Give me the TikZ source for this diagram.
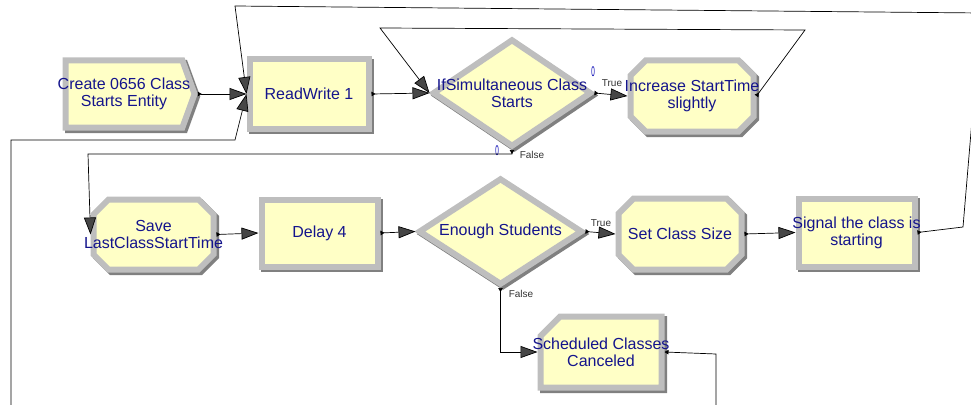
\documentclass[tikz,border=0pt]{standalone}
\usepackage{fontspec}
\setmainfont{Liberation Sans}
\usetikzlibrary{arrows.meta, shapes.geometric, shapes.symbols}

\definecolor{modfill}{RGB}{255,255,198}
\definecolor{bevlight}{RGB}{190,190,190}
\definecolor{bevdark}{RGB}{128,128,128}
\definecolor{modtext}{RGB}{20,20,140}
\definecolor{tipgray}{RGB}{70,70,70}

\tikzset{
  smalltip/.tip={Triangle[reversed, length=4pt, width=4.5pt]},
  bigtip/.tip={Triangle[length=17pt, width=12pt, fill=tipgray]},
  module/.style={fill=modfill, draw=bevlight, line width=6pt, inner sep=0pt,
    preaction={draw=bevdark, line width=6pt,
      transform canvas={shift={(2.5pt,-2.5pt)}}}},
  modbox/.style={module, rectangle},
  moddecide/.style={module, diamond},
  modframe/.style={rectangle, inner sep=0pt, outer sep=3pt},
  txt/.style={font=\fontsize{16}{17}\selectfont, text=modtext, align=center, inner sep=0pt},
  branch/.style={font=\fontsize{10}{12}\selectfont, text=black!80, inner sep=0pt},
  counter/.style={font=\fontsize{14}{14}\selectfont, text=blue!70!black, inner sep=0pt},
  conn/.style={line width=0.7pt, smalltip-bigtip},
}

% bevelled octagon: centre x, centre y, width, height, chamfer
\newcommand{\octabox}[5]{%
  \path[module] ({#1-#3/2+#5},{#2-#4/2}) -- ({#1+#3/2-#5},{#2-#4/2})
    -- ({#1+#3/2},{#2-#4/2+#5}) -- ({#1+#3/2},{#2+#4/2-#5})
    -- ({#1+#3/2-#5},{#2+#4/2}) -- ({#1-#3/2+#5},{#2+#4/2})
    -- ({#1-#3/2},{#2+#4/2-#5}) -- ({#1-#3/2},{#2-#4/2+#5}) -- cycle;}

\begin{document}
\begin{tikzpicture}[x=1pt, y=-1pt]
  \useasboundingbox (0,0) rectangle (971,404);
  \clip (0,0) rectangle (971,404);

  % upper row
  \node[module, signal, signal pointer angle=140, minimum width=129pt, minimum height=67pt,
    label={[txt]center:Create 0656 Class\\Starts Entity}] (create) at (124,94) {};
  \node[modbox, minimum width=119pt, minimum height=69pt,
    label={[txt]center:ReadWrite 1}] (rw) at (309,94) {};
  \node[moddecide, minimum width=159pt, minimum height=108pt,
    label={[txt]center:IfSimultaneous Class\\Starts}] (ifsim) at (512,93) {};
  \octabox{692}{96}{123}{71}{15}
  \node[modframe, minimum width=123pt, minimum height=71pt,
    label={[txt]center:Increase StartTime\\slightly}] (inc) at (692,96) {};

  % lower row
  \octabox{153.5}{234.5}{120}{70}{15}
  \node[modframe, minimum width=120pt, minimum height=70pt,
    label={[txt]center:Save\\LastClassStartTime}] (save) at (153.5,234.5) {};
  \node[modbox, minimum width=116pt, minimum height=67pt,
    label={[txt]center:Delay 4}] (delay) at (319.5,233) {};
  \node[moddecide, minimum width=164pt, minimum height=107pt,
    label={[txt]center:Enough Students}] (enough) at (500.5,231.5) {};
  \octabox{680}{234}{123}{71}{15}
  \node[modframe, minimum width=123pt, minimum height=71pt,
    label={[txt]center:Set Class Size}] (setsize) at (680,234) {};
  \node[modbox, minimum width=116pt, minimum height=68pt,
    label={[txt]center:Signal the class is\\starting}] (sig) at (856.5,232.5) {};
  \path[module] (560,316.5) -- (661.5,316.5) -- (661.5,387.5) -- (540.5,387.5)
    -- (540.5,336) -- cycle;
  \node[modframe, minimum width=121pt, minimum height=71pt,
    label={[txt]center:Scheduled Classes\\Canceled}] (cancel) at (601,352) {};

  % branch labels and counters
  \node[branch] (true1) at (612,83) {True};
  \node[branch] (false1) at (532,155) {False};
  \node[branch] (true2) at (601,223) {True};
  \node[branch] (false2) at (521,294) {False};
  \node[counter] (cnt1) at (593,72) {\scalebox{0.45}[1]{0}};
  \node[counter] (cnt2) at (497,151) {\scalebox{0.45}[1]{0}};

  % connections
  \draw[conn] (create.east) -- (rw.west);
  \draw[conn] (rw.east) -- (ifsim.west);
  \draw[conn] (ifsim.east) -- (inc.west);
  \draw[conn] (inc.east) -- (805,30) -- (380,28) -- (ifsim.west);
  \draw[conn] (ifsim.south) -- ++(0,4) -- (88,154) -- (save.west);
  \draw[conn] (save.east) -- (delay.west);
  \draw[conn] (delay.east) -- (enough.west);
  \draw[conn] (enough.east) -- (setsize.west);
  \draw[conn] (setsize.east) -- (sig.west);
  \draw[conn] (enough.south) -- ++(0,4) |- (cancel.west);
  \draw[conn] (sig.east) -- (963,227) -- (981,13) -- (235,6) -- (rw.west);
  \draw[line width=0.7pt, -bigtip] (11,420) -- (11,140) -- (235,140) -- (rw.west);
  \draw[line width=0.7pt, -{Triangle[length=4pt, width=4.5pt]}] (716,420) -- (716,354) -- (cancel.east);
\end{tikzpicture}
\end{document}
